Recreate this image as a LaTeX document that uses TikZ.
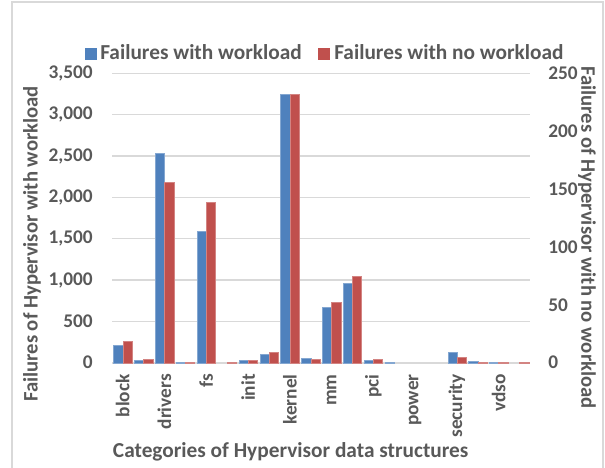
\documentclass[tikz,border=0pt]{standalone}
\usepackage{fontspec}
\setmainfont{Carlito}
\definecolor{txt}{HTML}{595959}
\definecolor{gridc}{HTML}{D9D9D9}
\definecolor{barblue}{HTML}{4F81BD}
\definecolor{barred}{HTML}{C0504D}
\begin{document}
\begin{tikzpicture}[x=0.75pt,y=-0.75pt,
  lbl/.style={text=txt,font=\fontsize{14.5}{17}\selectfont\bfseries,inner sep=0pt},
  ttl/.style={text=txt,font=\fontsize{15.5}{18}\selectfont\bfseries,inner sep=0pt},
  big/.style={text=txt,font=\fontsize{16}{19}\selectfont\bfseries,inner sep=0pt},
  gridline/.style={draw=gridc,line width=1pt},
  bluebar/.style={fill=barblue,draw=barblue!70!white,line width=0.3pt},
  redbar/.style={fill=barred,draw=barred!70!white,line width=0.3pt}]
\useasboundingbox (0,0) rectangle (605,467);
\draw[gridc,line width=0.8pt] (12,470) -- (12,2) -- (603,2) -- (603,470);
% gridlines
\foreach \k in {1,...,7}
  \draw[gridline] (112.3,{362.7-\k*41.343}) -- (530,{362.7-\k*41.343});
\draw[draw=gridc,line width=1.4pt] (112.3,362.7) -- (530,362.7);
% left ticks
\foreach \k/\t in {0/0,1/500,2/{1,000},3/{1,500},4/{2,000},5/{2,500},6/{3,000},7/{3,500}}
  \node[lbl,anchor=east] (l\k) at (93,{362.7-\k*41.343}) {\t};
% right ticks
\foreach \k/\t in {0/0,1/50,2/100,3/150,4/200,5/250}
  \node[lbl,anchor=west] (r\k) at (548,{362.7-\k*57.88}) {\t};
% bars
\foreach \i/\b/\r in {0/17.7/21.7,1/2.4/3.7,2/209.7/180.4,3/0.5/0.5,4/132/160.7,5/0/0.5,6/3/2.7,7/8.7/10.7,8/268.7/268.7,9/4.7/3.7,10/55.4/60.4,11/79.4/87,12/3/3.7,13/0.7/0,14/0/0,15/0/0,16/10.7/5.7,17/1.7/0.8,18/0.5/0.8,19/0/0.8}{
  \pgfmathsetmacro\c{112.3+(\i+0.5)*20.885}
  \ifdim\b pt>0pt \path[bluebar] ({\c-9.2},362.7) rectangle (\c,{362.7-\b}); \fi
  \ifdim\r pt>0pt \path[redbar] (\c,362.7) rectangle ({\c+9.2},{362.7-\r}); \fi
}
% category labels
\foreach \i/\t in {0/block,2/drivers,4/fs,6/init,8/kernel,10/mm,12/pci,14/power,16/security,18/vdso}{
  \pgfmathsetmacro\c{112.3+(\i+0.5)*20.885}
  \node[lbl,rotate=90,anchor=east] (c\i) at (\c,374) {\t};
}
% axis titles
\node[ttl,rotate=90] (ytl) at (32,244) {Failures of Hypervisor with workload};
\node[ttl,rotate=-90] (ytr) at (587,237.5) {Failures of Hypervisor with no workload};
\node[big] (xt) at (290.7,452) {Categories of Hypervisor data structures};
% legend
\path[fill=barblue] (85,48) rectangle (96.5,59.5);
\node[big,anchor=base west] (lg1) at (100,60) {Failures with workload};
\path[fill=barred] (318,48) rectangle (329.5,59.5);
\node[big,anchor=base west] (lg2) at (334,60) {Failures with no workload};
\end{tikzpicture}
\end{document}
